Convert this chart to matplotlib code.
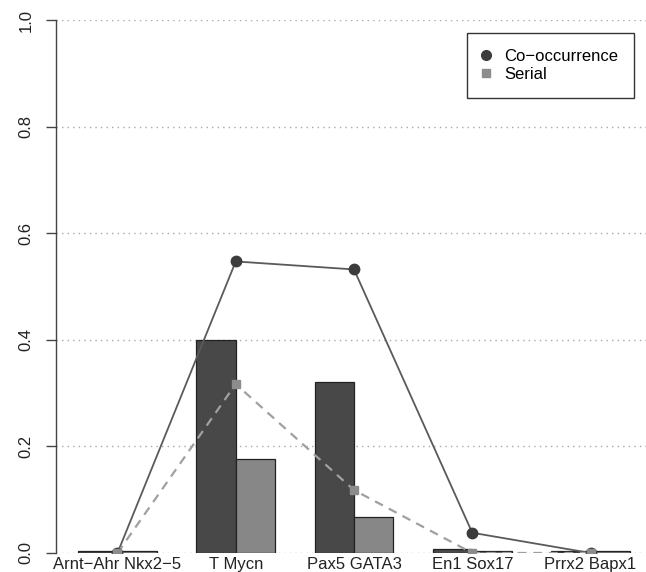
import matplotlib
matplotlib.use("Agg")
import matplotlib.pyplot as plt
from matplotlib.lines import Line2D
import numpy as np

plt.rcParams['font.family'] = ['Liberation Sans', 'DejaVu Sans']

# pairs of factors and the two measures per pair
pairs = ['Arnt\u2212Ahr Nkx2\u22125', 'T Mycn', 'Pax5 GATA3', 'En1 Sox17', 'Prrx2 Bapx1']
cooc_bars = [0.004, 0.400, 0.320, 0.007, 0.003]
serial_bars = [0.004, 0.176, 0.068, 0.003, 0.003]
cooc_line = [0.0, 0.547, 0.532, 0.038, 0.0]
serial_line = [0.0, 0.317, 0.118, 0.0, 0.0]
yticks = [0.0, 0.2, 0.4, 0.6, 0.8, 1.0]

DARK = '#484848'
LIGHT = '#878787'

fig = plt.figure(figsize=(6.46, 5.72), dpi=100)
ax = fig.add_axes([56 / 646, 19 / 572, 596 / 646, 533 / 572])

# barplot layout: groups of two unit-wide bars with a one-unit gap
starts = 1 + 3 * np.arange(len(pairs))
centers = starts + 1

for y in yticks:
    ax.axhline(y, color='#a8a8a8', lw=1.0, ls=(0, (1, 3)), zorder=0)

ax.bar(starts + 0.5, cooc_bars, width=1.0, color=DARK, edgecolor='#222222', lw=0.9, zorder=2)
ax.bar(starts + 1.5, serial_bars, width=1.0, color=LIGHT, edgecolor='#222222', lw=0.9, zorder=2)

ax.plot(centers, cooc_line, color='#5a5a5a', lw=1.3, zorder=3)
ax.plot(centers, cooc_line, ls='none', marker='o', ms=7.5, color='#3c3c3c', zorder=4)
ax.plot(centers, serial_line, color='#a0a0a0', lw=1.6, ls=(0, (4, 3)), zorder=3)
ax.plot(centers, serial_line, ls='none', marker='s', ms=6, color='#8c8c8c', zorder=5)

ax.set_xlim(0.44, 15.56)
ax.set_ylim(0, 1)

for s in ['top', 'right', 'bottom']:
    ax.spines[s].set_visible(False)
ax.spines['left'].set_bounds(0, 1)
ax.spines['left'].set_color('#444444')
ax.spines['left'].set_linewidth(1.0)

ax.set_yticks(yticks)
ax.set_yticklabels(['%.1f' % v for v in yticks], rotation=90, va='center', fontsize=12, color='#222222')
ax.tick_params(axis='y', length=7, width=1.0, color='#444444', pad=9)

ax.set_xticks(centers)
ax.set_xticklabels(pairs, fontsize=12, color='#222222')
ax.tick_params(axis='x', length=0, pad=3)

handles = [
    Line2D([], [], ls='none', marker='o', ms=7, color='#3c3c3c'),
    Line2D([], [], ls='none', marker='s', ms=6, color='#8c8c8c'),
]
leg = ax.legend(handles, ['Co\u2212occurrence', 'Serial'], loc='upper right',
                bbox_to_anchor=(634 / 646, 1 - 33 / 572), bbox_transform=fig.transFigure,
                borderaxespad=0, fontsize=12, frameon=True, fancybox=False,
                framealpha=1, edgecolor='#333333', borderpad=0.95,
                handlelength=0.4, handletextpad=0.9, labelspacing=0.2)
leg.get_frame().set_linewidth(1.0)

fig.savefig('out.png', dpi=100)
